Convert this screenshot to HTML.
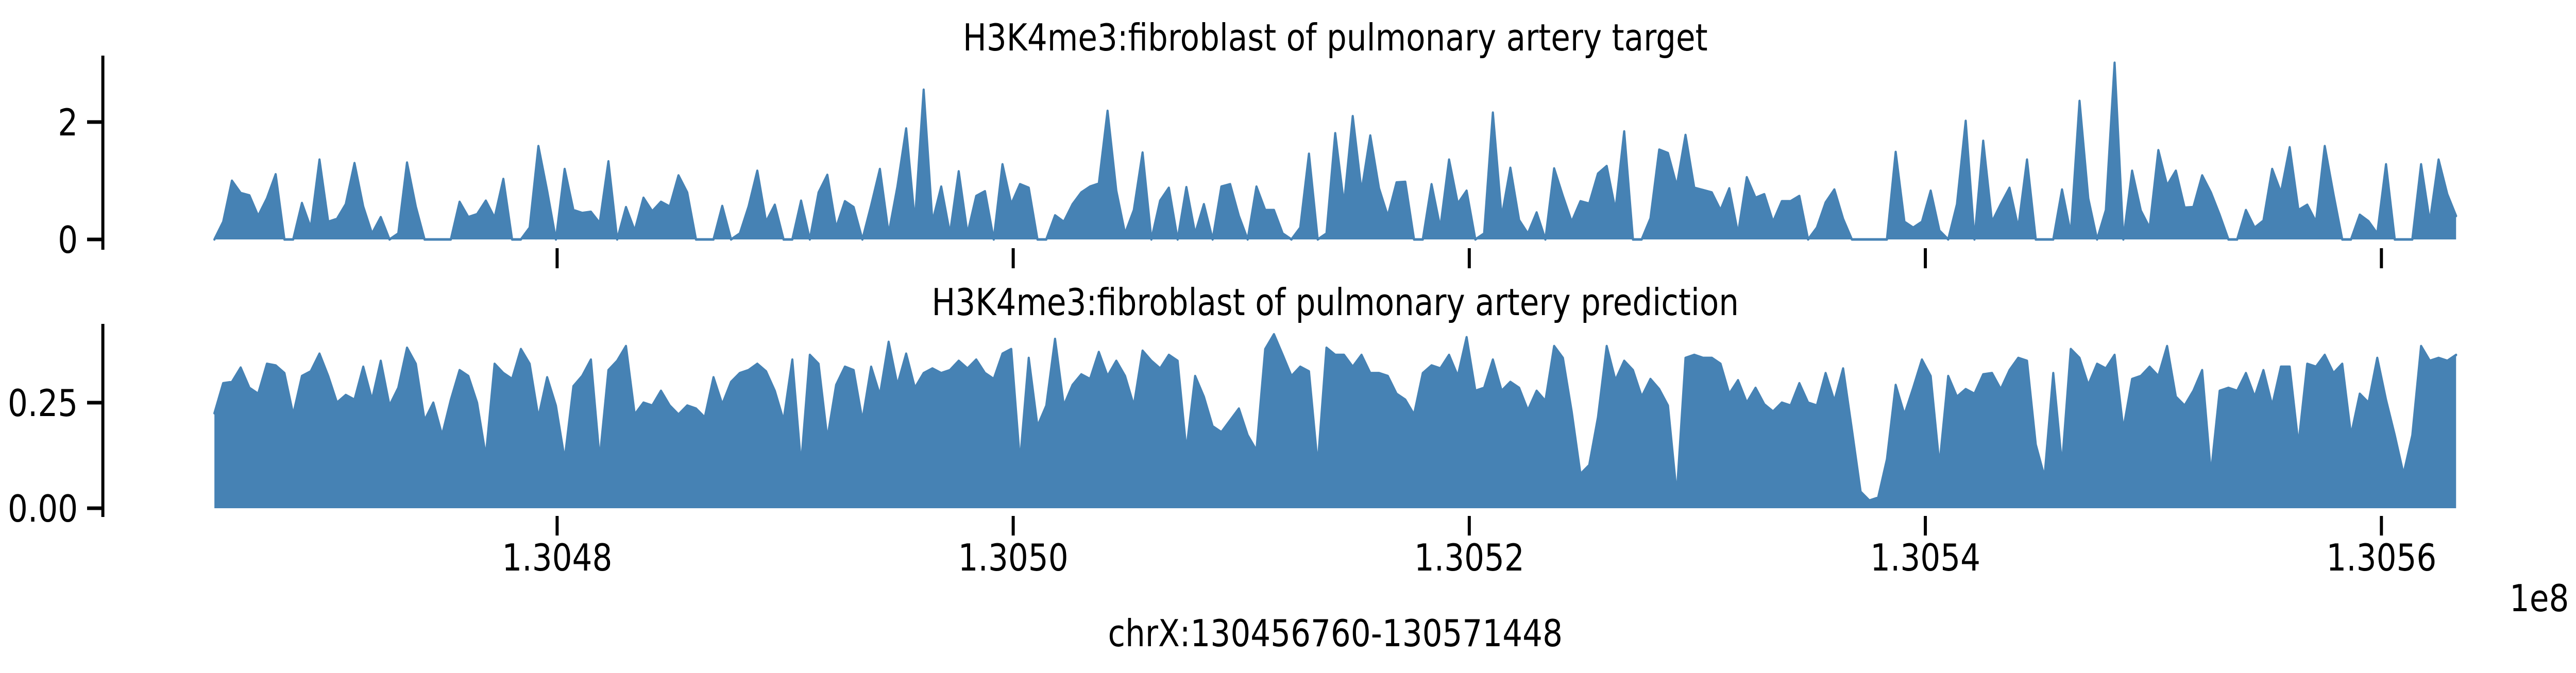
<!DOCTYPE html>
<html><head><meta charset="utf-8"><style>
html,body{margin:0;padding:0;background:#fff;width:100%;height:100%;overflow:hidden;}
svg{display:block;width:100vw;height:100vh;}
text{font-family:"DejaVu Sans","Liberation Sans",sans-serif;fill:#000;}
</style></head><body>
<svg id="chart" viewBox="0 0 5886 1307" preserveAspectRatio="none" xmlns="http://www.w3.org/2000/svg">
<g id="topPanel"></g>
<g id="botPanel"></g>
<text x="3051" y="98" font-size="72" text-anchor="middle">H3K4me3:fibroblast of pulmonary artery target</text>
<text x="3051" y="612" font-size="72" text-anchor="middle">H3K4me3:fibroblast of pulmonary artery prediction</text>
<text x="3051" y="1255" font-size="72" text-anchor="middle">chrX:130456760-130571448</text>
<text x="5870" y="1187" font-size="72" text-anchor="end">1e8</text>
</svg>
<script>
const binStart = 130464970;
const binSize = 384;
const xTicks = [130480000, 130500000, 130520000, 130540000, 130560000];
const xTickLabels = ["1.3048", "1.3050", "1.3052", "1.3054", "1.3056"];
const topYTicks = [0, 2];
const topYTickLabels = ["0", "2"];
const botYTicks = [0, 0.25];
const botYTickLabels = ["0.00", "0.25"];
const targetValues = [
0,0.3,1.0,0.79,0.75,0.4,0.7,1.11,0,0,0.62,0.2,1.36,0.3,0.35,0.6,1.3,0.56,0.1,0.38,0,0.1,1.31,0.56,0,0,0,0,0.64,0.38,0.43,0.66,0.37,1.03,0,0,0.2,1.59,0.83,0,1.2,0.5,0.45,0.47,0.28,1.33,0,0.55,0.15,0.71,0.48,0.64,0.56,1.09,0.8,0,0,0,0.57,0,0.1,0.56,1.17,0.3,0.59,
0,0,0.66,0,0.8,1.1,0.2,0.65,0.55,0,0.58,1.2,0.1,0.9,1.89,0.3,2.55,0.3,0.9,0.1,1.16,0.1,0.74,0.82,0,1.28,0.6,0.94,0.88,0,0,0.41,0.3,0.6,0.8,0.9,0.95,2.19,0.83,0.1,0.5,1.48,0,0.66,0.88,0,0.89,0.1,0.6,0,0.9,0.94,0.4,0,0.9,0.5,0.5,0.1,0,0.2,1.46,0,0.1,1.81,0.6,
2.1,0.82,1.77,0.87,0.4,0.97,0.98,0,0,0.94,0.2,1.36,0.61,0.83,0,0.1,2.16,0.38,1.22,0.33,0.1,0.46,0,1.21,0.74,0.3,0.65,0.61,1.12,1.25,0.5,1.84,0,0,0.36,1.53,1.47,0.91,1.78,0.88,0.84,0.8,0.5,0.87,0.1,1.06,0.71,0.77,0.3,0.65,0.65,0.74,0,0.2,0.63,0.85,0.35,0,0,0,0,0,1.49,0.3,
0.2,0.3,0.83,0.15,0,0.6,2.02,0,1.68,0.3,0.6,0.88,0.2,1.36,0,0,0,0.85,0.1,2.36,0.7,0,0.5,3.01,0,1.17,0.49,0.2,1.52,0.92,1.17,0.54,0.55,1.09,0.8,0.42,0,0,0.5,0.2,0.32,1.2,0.8,1.57,0.5,0.59,0.3,1.59,0.77,0,0,0.42,0.31,0.1,1.28,0,0,0,1.28,0.3,1.36,0.77,0.4
];
const predictionValues = [
0.225,0.296,0.299,0.333,0.285,0.271,0.342,0.338,0.320,0.222,0.313,0.324,0.366,0.313,0.250,0.268,0.257,0.335,0.257,0.349,0.243,0.285,0.380,0.342,0.208,0.250,0.173,0.257,0.327,0.313,0.250,0.123,0.342,0.320,0.306,0.377,0.342,0.215,0.310,0.243,0.116,0.289,0.313,0.352,0.116,0.327,0.349,0.384,0.222,0.250,0.243,0.278,0.243,0.222,0.243,0.236,0.215,0.310,0.246,0.299,0.320,0.327,0.342,0.324,0.278,
0.208,0.352,0.102,0.363,0.342,0.165,0.292,0.335,0.327,0.208,0.335,0.268,0.394,0.292,0.366,0.285,0.320,0.331,0.320,0.327,0.349,0.331,0.352,0.320,0.306,0.366,0.377,0.109,0.356,0.194,0.243,0.401,0.243,0.292,0.317,0.306,0.370,0.313,0.349,0.313,0.243,0.373,0.349,0.331,0.363,0.349,0.137,0.313,0.264,0.194,0.180,0.208,0.236,0.173,0.137,0.377,0.412,0.363,0.313,0.335,0.324,0.102,0.380,0.363,0.363,
0.335,0.363,0.320,0.320,0.313,0.271,0.257,0.222,0.320,0.338,0.331,0.363,0.313,0.405,0.278,0.285,0.352,0.278,0.299,0.285,0.232,0.278,0.254,0.384,0.356,0.229,0.081,0.102,0.215,0.384,0.303,0.349,0.327,0.264,0.306,0.282,0.243,0.032,0.356,0.363,0.356,0.356,0.342,0.271,0.303,0.250,0.285,0.246,0.229,0.250,0.243,0.296,0.250,0.243,0.320,0.254,0.331,0.187,0.039,0.018,0.025,0.116,0.292,0.222,
0.285,0.352,0.313,0.102,0.313,0.264,0.282,0.271,0.317,0.320,0.282,0.327,0.356,0.349,0.151,0.074,0.320,0.102,0.377,0.356,0.292,0.342,0.331,0.363,0.187,0.306,0.313,0.335,0.313,0.384,0.264,0.243,0.278,0.327,0.081,0.278,0.285,0.278,0.320,0.264,0.327,0.243,0.335,0.335,0.151,0.342,0.335,0.363,0.320,0.342,0.173,0.271,0.250,0.356,0.257,0.173,0.081,0.173,0.384,0.349,0.356,0.349,0.363
];

const NS = "http://www.w3.org/2000/svg";
const COLOR = "#4682b4";
function xScale(bp){ return 1273 + (bp - 130480000) * 0.052105; }
function binX(i){ return xScale(binStart + i * binSize); }
function yTop(v){ return 465 - v * 114; }
function yBot(v){ return 987 - v * 820; }
function mk(tag, attrs, parent){
  const e = document.createElementNS(NS, tag);
  for (const k in attrs) e.setAttribute(k, attrs[k]);
  parent.appendChild(e);
  return e;
}
const topG = document.getElementById('topPanel');
const botG = document.getElementById('botPanel');

function drawSeries(values, ys, parent, name){
  const pts = [];
  for (let i = 0; i < values.length; i++) pts.push(binX(i).toFixed(1) + "," + ys(values[i]).toFixed(1));
  const x0 = binX(0).toFixed(1), x1 = binX(values.length - 1).toFixed(1), b = ys(0).toFixed(1);
  const area = mk('polygon', {points: x0 + "," + b + " " + pts.join(" ") + " " + x1 + "," + b, fill: COLOR}, parent);
  
  
  const line = mk('polyline', {points: pts.join(" "), fill: "none", stroke: COLOR, "stroke-width": 5, "stroke-linejoin": "round", "stroke-linecap": "round"}, parent);
  
  
}
drawSeries(targetValues, yTop, topG, 'target');
drawSeries(predictionValues, yBot, botG, 'prediction');

function yAxis(parent, y0, y1, ticks, labels, ys, name){
  const sp = mk('line', {x1: 235, x2: 235, y1: y0, y2: y1, stroke: "#000", "stroke-width": 7}, parent);
  
  
  ticks.forEach((t, i) => {
    const y = ys(t);
    const tk = mk('line', {x1: 199, x2: 235, y1: y, y2: y, stroke: "#000", "stroke-width": 7}, parent);
    
    
    const tx = mk('text', {x: 178, y: y + 26, "font-size": 72, "text-anchor": "end"}, parent);
    tx.textContent = labels[i];
    
    
  });
}
yAxis(topG, 108, 485, topYTicks, topYTickLabels, yTop, 'target');
yAxis(botG, 629, 1004, botYTicks, botYTickLabels, yBot, 'prediction');

xTicks.forEach((t, i) => {
  const x = xScale(t);
  const a = mk('line', {x1: x, x2: x, y1: 482, y2: 521, stroke: "#000", "stroke-width": 7}, topG);
  
  
  const b = mk('line', {x1: x, x2: x, y1: 1002, y2: 1040, stroke: "#000", "stroke-width": 7}, botG);
  
  
  const tx = mk('text', {x: x, y: 1108, "font-size": 72, "text-anchor": "middle"}, botG);
  tx.textContent = xTickLabels[i];
  
  
});
</script>
</body></html>
